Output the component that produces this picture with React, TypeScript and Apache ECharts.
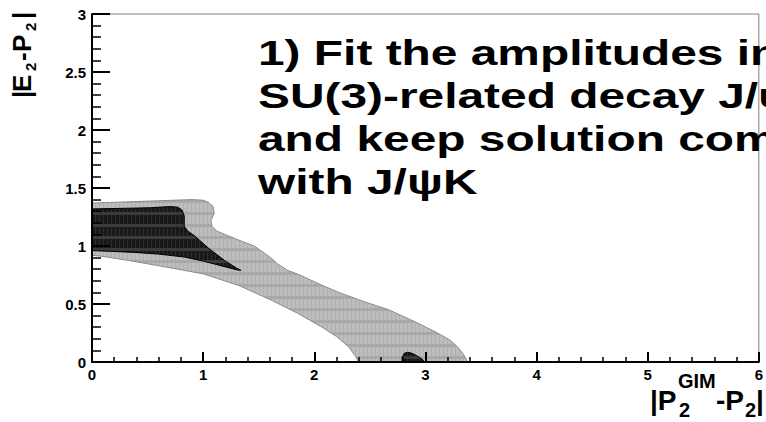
import React, { useEffect, useRef } from 'react';
import * as echarts from 'echarts';

// Axis ticks
const xTickValues = [0, 1, 2, 3, 4, 5, 6];
const yTickLabels = ['0', '0.5', '1', '1.5', '2', '2.5', '3'];

// Outer (light grey) allowed region, traced clockwise from the top-left
const lightContour: [number, number][] = [
  [0, 1.37], [0.3, 1.38], [0.6, 1.39], [0.9, 1.40], [1.0, 1.395], [1.05, 1.375],
  [1.09, 1.34], [1.10, 1.28], [1.07, 1.22], [1.08, 1.17], [1.12, 1.13], [1.22, 1.09],
  [1.35, 1.04], [1.46, 1.0], [1.55, 0.94], [1.62, 0.89], [1.67, 0.845], [1.76, 0.79],
  [1.87, 0.75], [2.05, 0.67], [2.22, 0.60], [2.45, 0.52], [2.67, 0.45], [2.9, 0.35],
  [3.11, 0.25], [3.22, 0.19], [3.29, 0.13], [3.34, 0.07], [3.37, 0.02], [3.38, 0],
  [2.40, 0], [2.37, 0.05], [2.31, 0.13], [2.2, 0.22], [2.07, 0.30], [1.85, 0.42],
  [1.62, 0.53], [1.32, 0.66], [1.0, 0.76], [0.6, 0.83], [0.3, 0.88], [0.1, 0.91], [0, 0.92],
];

// Inner (dark) region
const darkContour: [number, number][] = [
  [0, 1.32], [0.3, 1.325], [0.53, 1.33], [0.7, 1.34], [0.77, 1.335], [0.81, 1.31],
  [0.83, 1.26], [0.83, 1.17], [0.86, 1.13], [0.92, 1.09], [1.05, 0.98], [1.2, 0.87],
  [1.30, 0.81], [1.34, 0.79], [1.30, 0.795], [1.2, 0.82], [1.0, 0.87], [0.83, 0.905],
  [0.6, 0.93], [0.38, 0.945], [0.15, 0.955], [0, 0.96],
];

// Small dark island near the x axis
const darkBlob: [number, number][] = [
  [2.79, 0], [2.79, 0.04], [2.81, 0.075], [2.84, 0.084], [2.88, 0.075],
  [2.93, 0.05], [2.97, 0.025], [2.99, 0],
];

const noteLines = [
  '1) Fit the amplitudes in',
  'SU(3)-related decay J/ψ',
  'and keep solution com',
  'with J/ψK',
];

const FONT = '"Liberation Sans", Arial, Helvetica, sans-serif';

function makePattern(base: string, vline: string, hband: string) {
  const c = document.createElement('canvas');
  c.width = 4;
  c.height = 12;
  const g = c.getContext('2d');
  if (!g) return base;
  g.fillStyle = base;
  g.fillRect(0, 0, 4, 12);
  g.fillStyle = vline;
  g.fillRect(3, 0, 1, 12);
  g.fillStyle = hband;
  g.fillRect(0, 8, 4, 3);
  return { image: c, repeat: 'repeat' } as any;
}

function polygonSeries(name: string, pts: [number, number][], fill: any, stroke: string, z: number) {
  return {
    type: 'custom',
    name,
    coordinateSystem: 'cartesian2d',
    clip: true,
    silent: true,
    z,
    data: pts,
    encode: { x: 0, y: 1 },
    renderItem: (params: any, api: any) => {
      if (params.dataIndex !== 0) return null;
      const points = pts.map((p) => api.coord(p));
      return {
        type: 'polygon',
        shape: { points },
        style: { fill, stroke, lineWidth: 1 },
      };
    },
  };
}

function txt(text: string, x: number, y: number, size: number, extra: any = {}) {
  return {
    type: 'text',
    x,
    y,
    silent: true,
    style: {
      text,
      font: `bold ${size}px ${FONT}`,
      fill: '#000',
      align: 'left',
      verticalAlign: 'middle',
      textAlign: 'left',
      textVerticalAlign: 'middle',
    },
    ...extra,
  };
}

export default function App() {
  const ref = useRef<HTMLDivElement>(null);
  useEffect(() => {
    if (!ref.current) return;
    const chart = echarts.init(ref.current, undefined, { renderer: 'svg' });
    const axisLabelStyle = {
      color: '#000',
      fontSize: 15,
      fontWeight: 'bold',
      fontFamily: FONT,
    };
    const lightFill = makePattern('#bdbdbd', '#b0b0b0', '#a9a9a9');
    const darkFill = makePattern('#181818', '#2c2c2c', '#3a3a3a');
    chart.setOption({
      animation: false,
      backgroundColor: '#fff',
      grid: {
        left: 92,
        right: 3,
        top: 14,
        bottom: 60,
        show: true,
        borderColor: '#808080',
        borderWidth: 1,
        backgroundColor: 'transparent',
      },
      xAxis: {
        type: 'value',
        min: xTickValues[0],
        max: xTickValues[xTickValues.length - 1],
        interval: 1,
        z: 10,
        axisLine: { show: true, onZero: false, lineStyle: { color: '#000', width: 2 } },
        axisTick: { show: true, inside: true, length: 10, lineStyle: { color: '#000', width: 2 } },
        minorTick: { show: true, splitNumber: 5, length: 5, lineStyle: { color: '#000', width: 1.5 } },
        splitLine: { show: false },
        axisLabel: { ...axisLabelStyle, margin: 5, formatter: (v: number) => String(v), showMaxLabel: true },
      },
      yAxis: {
        type: 'value',
        min: 0,
        max: 3,
        interval: 0.5,
        z: 10,
        axisLine: { show: true, onZero: false, lineStyle: { color: '#000', width: 2 } },
        axisTick: { show: true, inside: true, length: 18, lineStyle: { color: '#000', width: 2 } },
        minorTick: { show: true, splitNumber: 5, length: 9, lineStyle: { color: '#000', width: 1.5 } },
        splitLine: { show: false },
        axisLabel: {
          ...axisLabelStyle,
          margin: 6,
          formatter: (v: number) => yTickLabels[Math.round(v * 2)] ?? String(v),
        },
      },
      series: [
        polygonSeries('light', lightContour, lightFill, '#8c8c8c', 1),
        polygonSeries('dark', darkContour, darkFill, '#000', 2),
        polygonSeries('blob', darkBlob, darkFill, '#000', 3),
      ],
      graphic: [
        // Y axis title |E2-P2| rotated
        {
          type: 'group',
          x: 31,
          y: 98,
          rotation: Math.PI / 2,
          silent: true,
          children: [
            txt('|', 0, -9, 26),
            txt('E', 6, -9, 26),
            txt('2', 27, -1, 15),
            txt('-', 37, -9, 26),
            txt('P', 46, -9, 26),
            txt('2', 67, -1, 15),
            txt('|', 79, -9, 26),
          ],
        },
        // X axis title |P2^GIM - P2|
        txt('|P', 650, 400, 28),
        txt('GIM', 678, 381, 20),
        txt('2', 679, 410, 20),
        txt('-P', 716, 400, 28),
        txt('2', 745, 410, 20),
        txt('|', 756, 400, 28),
        // Slide note text
        {
          type: 'text',
          x: 258,
          y: 31,
          scaleX: 1.33,
          z: 100,
          silent: true,
          style: {
            text: noteLines.join('\n'),
            font: `bold 36px ${FONT}`,
            fill: '#000',
            lineHeight: 43,
            align: 'left',
            verticalAlign: 'top',
            textAlign: 'left',
            textVerticalAlign: 'top',
          },
        },
      ],
    });
    return () => chart.dispose();
  }, []);
  return (
    <div
      ref={ref}
      style={{ position: 'fixed', left: 0, top: 0, width: 766, height: 422, background: '#fff' }}
    />
  );
}
